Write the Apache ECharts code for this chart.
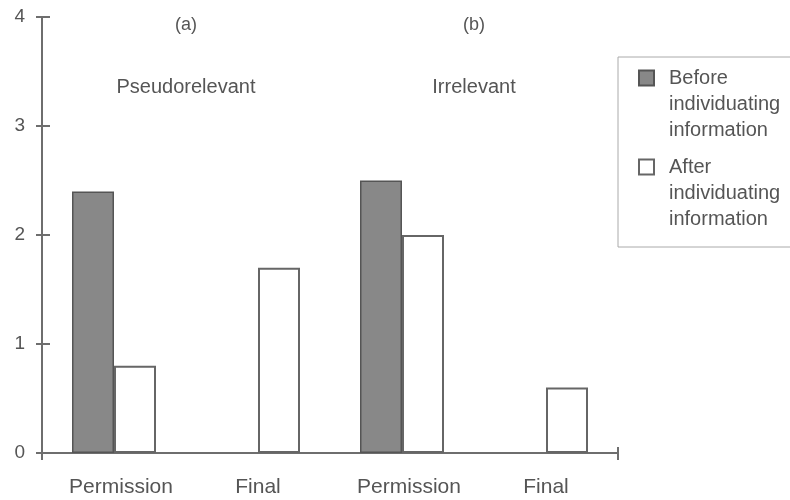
<!DOCTYPE html>
<html>
<head>
<meta charset="utf-8">
<script src="https://cdn.jsdelivr.net/npm/echarts@6/dist/echarts.min.js"></script>
<style>
  html, body { margin: 0; padding: 0; background: #fff; }
  #chart { width: 790px; height: 500px; }
</style>
</head>
<body>
<div id="chart"></div>
<script>
// Ratings per response type, before and after individuating information
const categories = ['Permission', 'Final', 'Permission', 'Final'];
const beforeValues = [2.4, null, 2.5, null];
const afterValues = [0.8, 1.7, 2.0, 0.6];
const seriesNames = ['Before individuating information', 'After individuating information'];
const yTicks = [0, 1, 2, 3, 4];
const panelTags = ['(a)', '(b)'];
const panelTitles = ['Pseudorelevant', 'Irrelevant'];

const FONT = 'Liberation Sans';
const INK = '#555555';
const AXIS = '#6e6e6e';

const chart = echarts.init(document.getElementById('chart'), null, { renderer: 'canvas' });

const tickStyle = { color: AXIS, width: 2 };

// longer labels sit slightly right of the category centre
const categoryData = categories.map(c => ({
  value: c,
  textStyle: c.length > 6 ? { padding: [0, 0, 0, 14] } : {}
}));

const option = {
  animation: false,
  backgroundColor: '#ffffff',
  textStyle: { fontFamily: FONT },
  grid: { left: 42, right: 172, top: 17, bottom: 47 },
  xAxis: [
    {
      type: 'category',
      data: categoryData,
      position: 'bottom',
      boundaryGap: true,
      axisLine: { show: true, onZero: false, lineStyle: tickStyle },
      axisTick: { show: false },
      axisLabel: { color: INK, fontSize: 21, margin: 24, fontFamily: FONT },
      splitLine: { show: false }
    },
    // helper axes: crossing tick marks at both ends of the horizontal axis
    {
      type: 'value', min: 0, max: 1, interval: 1, position: 'bottom',
      axisLine: { show: false },
      axisTick: { show: true, inside: true, length: 6, lineStyle: tickStyle },
      axisLabel: { show: false },
      splitLine: { show: false }
    },
    {
      type: 'value', min: 0, max: 1, interval: 1, position: 'bottom',
      axisLine: { show: false },
      axisTick: { show: true, inside: false, length: 7, lineStyle: tickStyle },
      axisLabel: { show: false },
      splitLine: { show: false }
    }
  ],
  yAxis: [
    {
      type: 'value',
      min: yTicks[0],
      max: yTicks[yTicks.length - 1],
      interval: 1,
      position: 'left',
      axisLine: { show: true, onZero: false, lineStyle: tickStyle },
      axisTick: { show: true, inside: false, length: 6, lineStyle: tickStyle },
      axisLabel: { color: INK, fontSize: 19, margin: 17, fontFamily: FONT },
      splitLine: { show: false }
    },
    {
      type: 'value',
      min: yTicks[0],
      max: yTicks[yTicks.length - 1],
      interval: 1,
      position: 'left',
      axisLine: { show: false },
      axisTick: { show: true, inside: true, length: 8, lineStyle: tickStyle },
      axisLabel: { show: false },
      splitLine: { show: false }
    }
  ],
  legend: {
    orient: 'vertical',
    left: 618,
    top: 57,
    padding: [7, 80, 14, 20],
    itemGap: 9,
    itemWidth: 15,
    itemHeight: 78,
    // square swatch aligned with the first text line of each entry
    icon: 'path://M0,0 M0,5.5L15,5.5L15,20.5L0,20.5Z M15,78',
    selectedMode: false,
    borderColor: '#aaaaaa',
    borderWidth: 1,
    textStyle: { color: INK, fontSize: 20, lineHeight: 26, padding: [0, 0, 0, 10], fontFamily: FONT },
    formatter: name => name.split(' ').join('\n'),
    data: seriesNames
  },
  series: [
    {
      name: seriesNames[0],
      type: 'bar',
      xAxisIndex: 0,
      yAxisIndex: 0,
      data: beforeValues,
      barWidth: 42,
      barGap: '0%',
      itemStyle: { color: '#888888', borderColor: '#555555', borderWidth: 1.5 }
    },
    {
      name: seriesNames[1],
      type: 'bar',
      xAxisIndex: 0,
      yAxisIndex: 0,
      data: afterValues,
      barWidth: 42,
      barGap: '0%',
      itemStyle: { color: '#ffffff', borderColor: '#666666', borderWidth: 2 }
    }
  ]
};

chart.setOption(option);

// Panel headings centred over each pair of categories
const toPx = (fx, v) => chart.convertToPixel({ xAxisIndex: 1, yAxisIndex: 0 }, [fx, v]);
const panelCentres = [0.25, 0.75];
const graphics = [];
panelCentres.forEach((fx, i) => {
  const tagPos = toPx(fx, 3.93);
  const titlePos = toPx(fx, 3.35);
  graphics.push({
    type: 'text', x: tagPos[0], y: tagPos[1],
    style: { text: panelTags[i], fill: INK, font: '18px "Liberation Sans"', align: 'center', verticalAlign: 'middle' }
  });
  graphics.push({
    type: 'text', x: titlePos[0], y: titlePos[1],
    style: { text: panelTitles[i], fill: INK, font: '20px "Liberation Sans"', align: 'center', verticalAlign: 'middle' }
  });
});
chart.setOption({ graphic: graphics });
</script>
</body>
</html>
